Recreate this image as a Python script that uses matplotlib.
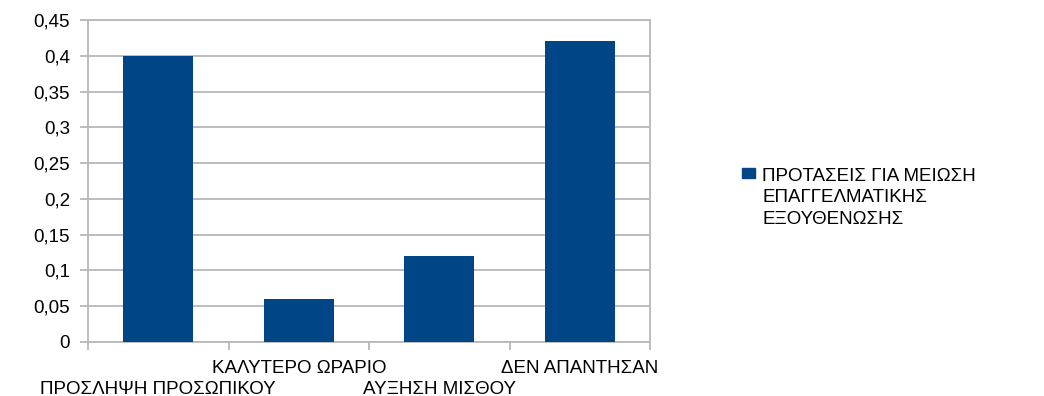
import matplotlib.pyplot as plt
import matplotlib.transforms as mtransforms
from matplotlib.patches import Rectangle
import numpy as np

plt.rcParams['font.family'] = ['Liberation Sans', 'DejaVu Sans']

categories = ["ΠΡΟΣΛΗΨΗ ΠΡΟΣΩΠΙΚΟΥ", "ΚΑΛΥΤΕΡΟ ΩΡΑΡΙΟ", "ΑΥΞΗΣΗ ΜΙΣΘΟΥ", "ΔΕΝ ΑΠΑΝΤΗΣΑΝ"]
values = [0.40, 0.06, 0.12, 0.42]
series_name = "ΠΡΟΤΑΣΕΙΣ ΓΙΑ ΜΕΙΩΣΗ\nΕΠΑΓΓΕΛΜΑΤΙΚΗΣ\nΕΞΟΥΘΕΝΩΣΗΣ"
yticks = [0, 0.05, 0.1, 0.15, 0.2, 0.25, 0.3, 0.35, 0.4, 0.45]

grid_col = "#b8b8b8"
bar_col = "#004586"
fs = 13.5

W, H = 1044, 396
fig = plt.figure(figsize=(W / 100, H / 100), dpi=100)
ax = fig.add_axes([88 / W, 1 - 342 / H, (650 - 88) / W, (342 - 20) / H])

x = np.arange(len(categories))
ax.bar(x, values, width=0.5, color=bar_col, zorder=3)

ax.set_xlim(-0.5, len(categories) - 0.5)
ax.set_ylim(0, 0.45)
ax.set_yticks(yticks)
ax.set_yticklabels([("%g" % v).replace(".", ",") for v in yticks], fontsize=fs)
ax.yaxis.grid(True, color=grid_col, linewidth=1.3, zorder=0)

# tick marks on category boundaries, names centred between them
ax.set_xticks(np.arange(len(categories) + 1) - 0.5)
ax.set_xticklabels([])
ax.tick_params(axis='both', color=grid_col, length=6, width=1.3, direction='out')
ax.tick_params(axis='y', pad=7)

for s in ax.spines.values():
    s.set_color(grid_col)
    s.set_linewidth(1.3)

# staggered category names: odd ones on the upper row
for i, name in enumerate(categories):
    y_off = -31 if i % 2 == 1 else -52
    t = mtransforms.offset_copy(ax.get_xaxis_transform(), fig=fig, x=0, y=y_off, units='dots')
    ax.text(i, 0, name, transform=t, ha='center', va='baseline', fontsize=fs)

# legend: square key aligned with the first line of the series name
fig.patches.append(Rectangle((742 / W, 1 - 178 / H), 13 / W, 10 / H,
                             transform=fig.transFigure, color=bar_col))
fig.text(762 / W, 1 - 168 / H, series_name, ha='left', va='top',
         fontsize=fs, linespacing=1.33)

fig.savefig("out.png", dpi=100)
